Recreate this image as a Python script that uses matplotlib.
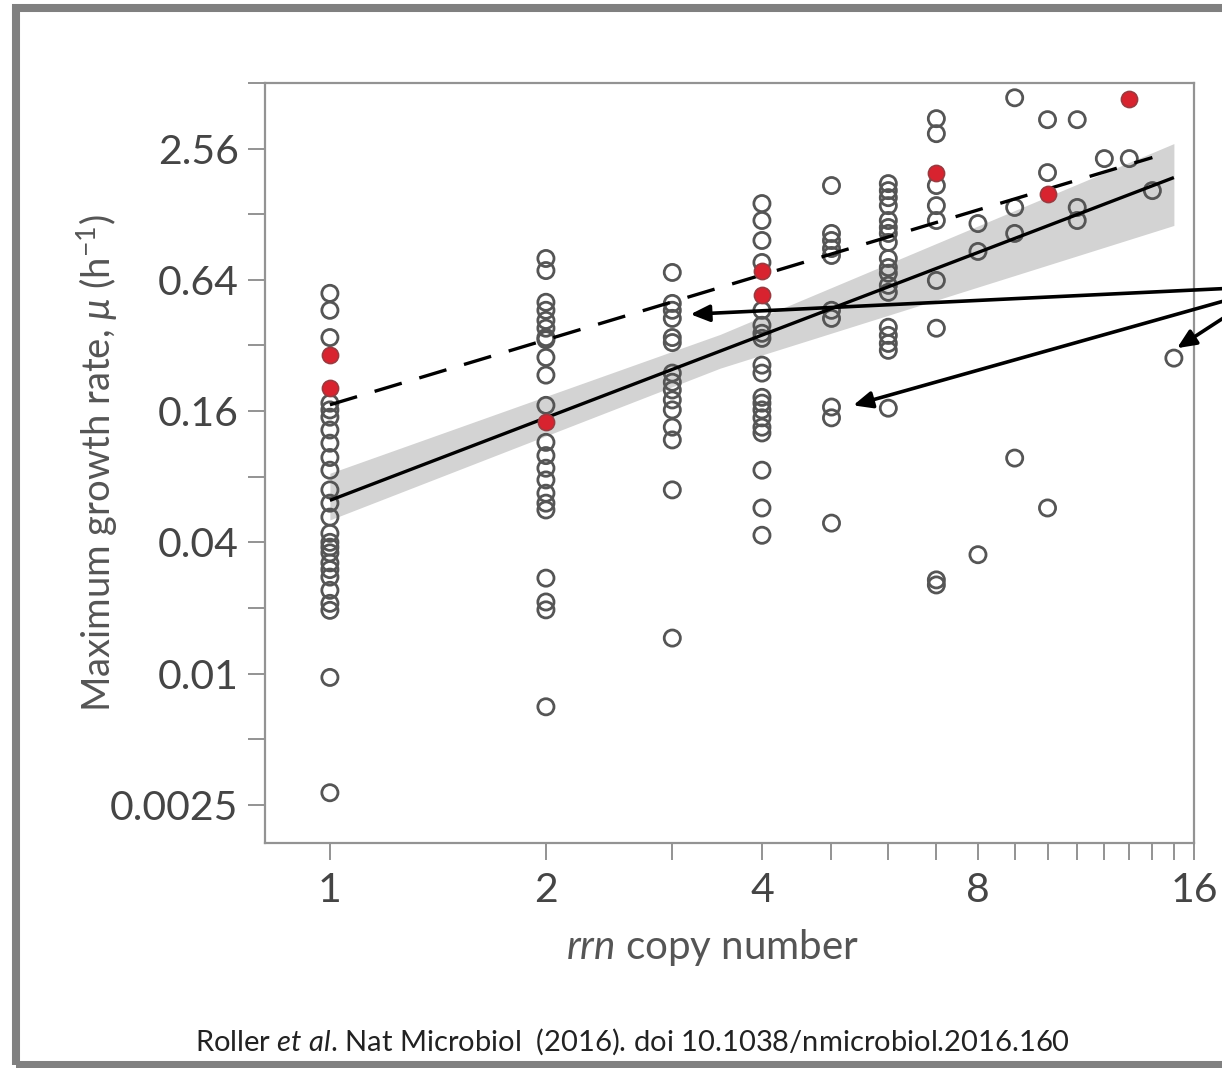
import matplotlib
matplotlib.use("Agg")
import matplotlib.pyplot as plt
from matplotlib.ticker import FixedLocator, FixedFormatter, NullFormatter
from matplotlib.patches import Rectangle

# ---------------- data ----------------
rate_1 = [0.555, 0.464, 0.348, 0.174, 0.162, 0.150, 0.131, 0.114, 0.098, 0.0857,
          0.0696, 0.0605, 0.0522, 0.044, 0.040, 0.038, 0.0358, 0.0322, 0.030, 0.0277,
          0.0241, 0.021, 0.0195, 0.0096, 0.00284]
rate_2 = [0.802, 0.706, 0.505, 0.464, 0.417, 0.384, 0.348, 0.340, 0.282, 0.234, 0.170,
          0.115, 0.100, 0.0875, 0.0773, 0.0672, 0.0605, 0.0563, 0.0274, 0.0213,
          0.0196, 0.00704]
rate_3 = [0.692, 0.499, 0.464, 0.426, 0.348, 0.330, 0.239, 0.217, 0.200, 0.180,
          0.162, 0.135, 0.118, 0.0696, 0.01455]
rate_4 = [1.433, 1.198, 0.970, 0.769, 0.464, 0.396, 0.364, 0.345, 0.260, 0.239,
          0.185, 0.174, 0.162, 0.149, 0.135, 0.127, 0.0857, 0.0575, 0.0431]
rate_5 = [1.733, 1.045, 0.970, 0.891, 0.828, 0.464, 0.426, 0.167, 0.149, 0.049]
rate_6 = [1.769, 1.643, 1.525, 1.402, 1.198, 1.113, 1.045, 0.950, 0.802, 0.729,
          0.686, 0.604, 0.561, 0.388, 0.356, 0.327, 0.304, 0.165]
rate_7 = [3.513, 2.998, 1.733, 1.402, 1.198, 0.636, 0.384, 0.0269, 0.0255]
rate_8 = [1.160, 0.864, 0.0351]
rate_9 = [4.38, 1.375, 1.045, 0.0974]
rate_10 = [3.476, 1.987, 0.0575]
rate_11 = [3.476, 1.375, 1.198]
rate_12 = [2.304]
rate_13 = [2.304]
rate_14 = [1.643]
rate_15 = [0.280]
open_groups = {1: rate_1, 2: rate_2, 3: rate_3, 4: rate_4, 5: rate_5, 6: rate_6,
               7: rate_7, 8: rate_8, 9: rate_9, 10: rate_10, 11: rate_11,
               12: rate_12, 13: rate_13, 14: rate_14, 15: rate_15}

red_copies = [1, 1, 2, 4, 4, 7, 10, 13]
red_rates = [0.288, 0.204, 0.142, 0.706, 0.543, 1.987, 1.592, 4.34]

fit_x = [1, 15]
fit_rate = [0.0623, 1.886]
dash_x = [1, 14]
dash_rate = [0.171, 2.33]
band_x = [1, 3.5, 15]
band_lo = [0.0507, 0.252, 1.137]
band_hi = [0.083, 0.360, 2.70]

x_major = [1, 2, 4, 8, 16]
x_major_labels = ["1", "2", "4", "8", "16"]
x_minor = [3, 5, 6, 7, 9, 10, 11, 12, 13, 14, 15]
y_major = [0.0025, 0.01, 0.04, 0.16, 0.64, 2.56]
y_major_labels = ["0.0025", "0.01", "0.04", "0.16", "0.64", "2.56"]
y_minor = [0.005, 0.02, 0.08, 0.32, 1.28, 5.12]

arrow_tips = [(3.18, 0.445), (5.36, 0.170), (15.15, 0.311)]
arrow_origins = [(1.034, 0.7296), (1.034, 0.7138), (1.034, 0.6927)]

# ---------------- style ----------------
plt.rcParams["font.family"] = ["Lato", "DejaVu Sans"]
plt.rcParams["mathtext.fontset"] = "custom"
plt.rcParams["mathtext.rm"] = "Lato"
plt.rcParams["mathtext.it"] = "Lato:italic"
plt.rcParams["mathtext.bf"] = "Lato:bold"

W, H = 1222, 1068
fig = plt.figure(figsize=(W / 100, H / 100), dpi=100)
fig.patch.set_facecolor("white")

# gray frame around the slide
frame = Rectangle((16 / W, 3 / H), 1.2, (H - 8 - 3) / H, transform=fig.transFigure,
                  fill=False, edgecolor="#808080", linewidth=5.8, clip_on=False)
fig.patches.append(frame)

ax = fig.add_axes([265 / W, (H - 843) / H, (1194 - 265) / W, (843 - 83) / H])
ax.set_xscale("log", base=2)
ax.set_yscale("log")
ax.set_xlim(0.812, 16)
ax.set_ylim(0.00167, 5.12)

ax.fill_between(band_x, band_lo, band_hi, color="#d3d3d3", linewidth=0, zorder=1)

for c, rates in open_groups.items():
    ax.scatter([c] * len(rates), rates, s=135, facecolors="none",
               edgecolors="#555555", linewidths=2.0, zorder=2)

ax.plot(fit_x, fit_rate, color="black", lw=2.4, zorder=3, solid_capstyle="butt")
dl, = ax.plot(dash_x, dash_rate, color="black", lw=2.4, zorder=3)
dl.set_dashes([8.5, 5.5])

ax.scatter(red_copies, red_rates, s=135, facecolors="#d8232f",
           edgecolors="#9a3a40", linewidths=1.2, zorder=4)

for sp in ax.spines.values():
    sp.set_color("#939393")
    sp.set_linewidth(1.6)

ax.xaxis.set_major_locator(FixedLocator(x_major))
ax.xaxis.set_major_formatter(FixedFormatter(x_major_labels))
ax.xaxis.set_minor_locator(FixedLocator(x_minor))
ax.xaxis.set_minor_formatter(NullFormatter())
ax.yaxis.set_major_locator(FixedLocator(y_major))
ax.yaxis.set_major_formatter(FixedFormatter(y_major_labels))
ax.yaxis.set_minor_locator(FixedLocator(y_minor))
ax.yaxis.set_minor_formatter(NullFormatter())

ax.tick_params(which="both", direction="out", length=12, width=1.4,
               color="#939393", labelcolor="#454545", labelsize=29.5)
ax.tick_params(axis="y", which="both", pad=7)
ax.tick_params(axis="x", which="both", pad=9)

for (tx, ty), (ox, oy) in zip(arrow_tips, arrow_origins):
    ax.annotate("", xy=(tx, ty), xycoords="data", xytext=(ox, oy),
                textcoords="axes fraction", annotation_clip=False,
                arrowprops=dict(arrowstyle="-|>,head_length=0.95,head_width=0.42",
                                lw=2.6, color="black", shrinkA=0, shrinkB=0,
                                mutation_scale=12))

fig.text(97 / W, 1 - 463 / H, r"Maximum growth rate, $\mu$ (h$^{-1}$)",
         rotation=90, ha="center", va="center", fontsize=27.5, color="#555555")
fig.text(713 / W, 1 - 948 / H, r"$\mathit{rrn}$ copy number",
         ha="center", va="center", fontsize=29, color="#555555")
fig.text(632 / W, 1 - 1042 / H,
         r"Roller $\mathit{et\ al}$. Nat Microbiol  (2016). doi 10.1038/nmicrobiol.2016.160",
         ha="center", va="center", fontsize=21, color="#222222")

fig.savefig("out.png", dpi=100)
